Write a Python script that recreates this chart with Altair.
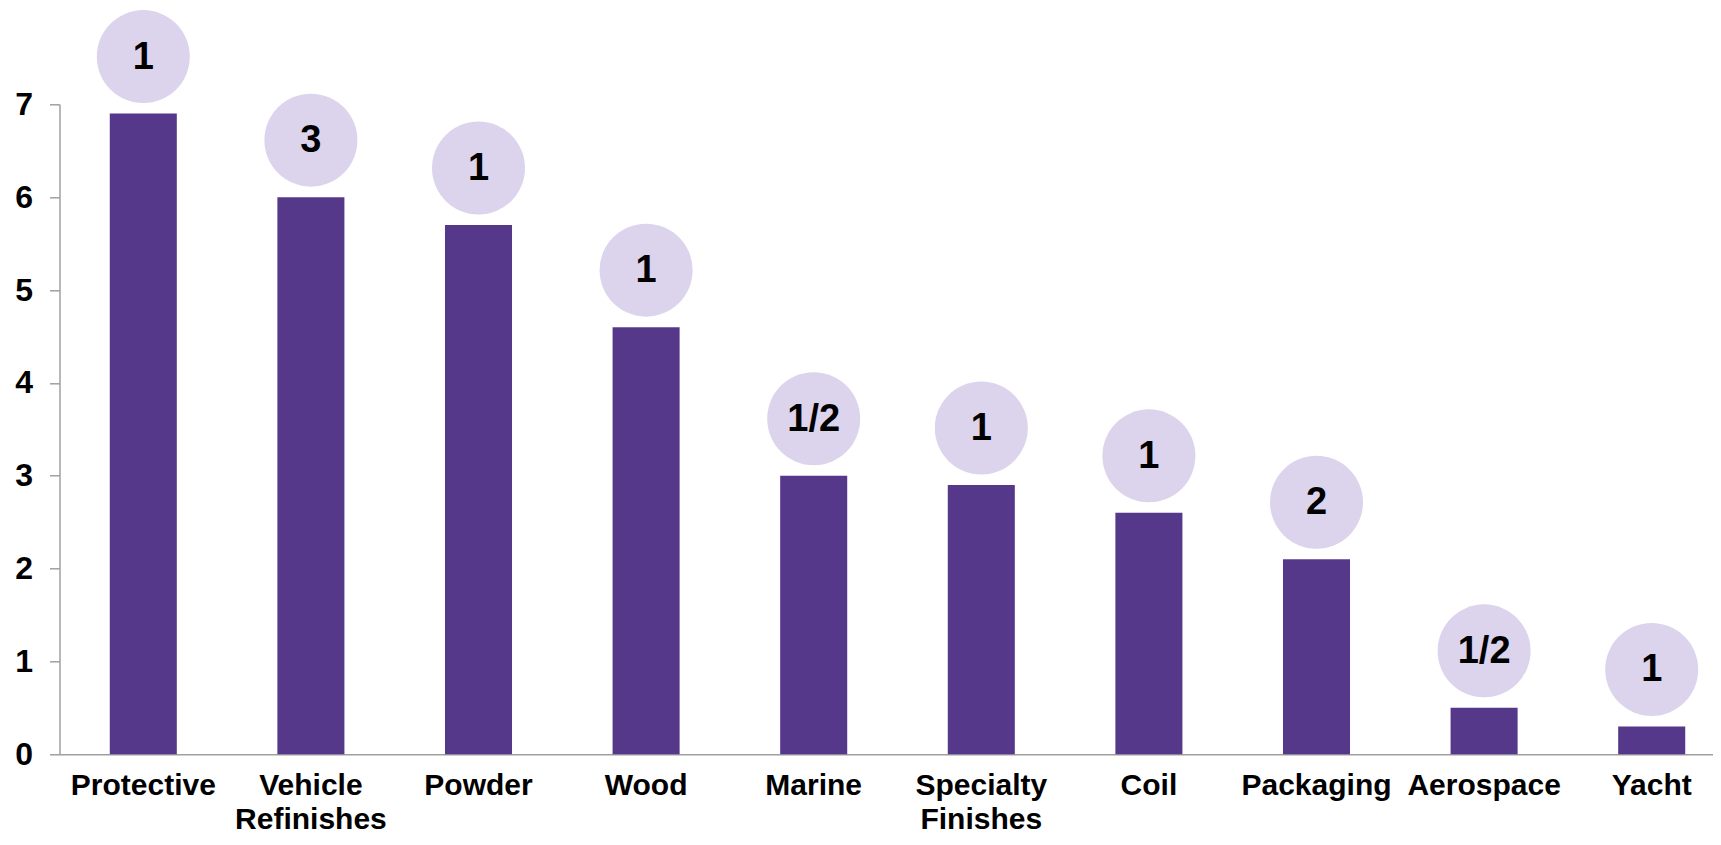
import altair as alt
import pandas as pd

categories = ["Protective", "Vehicle Refinishes", "Powder", "Wood", "Marine",
              "Specialty Finishes", "Coil", "Packaging", "Aerospace", "Yacht"]
values = [6.9, 6.0, 5.7, 4.6, 3.0, 2.9, 2.6, 2.1, 0.5, 0.3]
badges = ["1", "3", "1", "1", "1/2", "1", "1", "2", "1/2", "1"]

df = pd.DataFrame({"category": categories, "value": values, "badge": badges})

FONT = "Liberation Sans, Arial, sans-serif"
BAR = "#56388A"
CIRCLE = "#DCD3EC"
AXIS = "#A0A0A0"

x = alt.X("category:N", sort=categories, title=None,
          scale=alt.Scale(paddingInner=0.6, paddingOuter=0.3, range=[0, 1676]),
          axis=alt.Axis(labelAngle=0, ticks=False, grid=False, domainColor=AXIS, domainWidth=1.5,
                        labelFont=FONT, labelFontSize=30, labelFontWeight="bold",
                        labelColor="#000000", labelPadding=16, labelLineHeight=34,
                        labelExpr="split(datum.label, ' ')", labelLimit=400))
y = alt.Y("value:Q", title=None,
          scale=alt.Scale(domain=[0, 7], nice=False),
          axis=alt.Axis(values=[0, 1, 2, 3, 4, 5, 6, 7], grid=False, format="d",
                        domainColor=AXIS, domainWidth=1.5, tickColor=AXIS, tickWidth=1.5,
                        tickSize=10, labelFont=FONT, labelFontSize=32,
                        labelFontWeight="bold", labelColor="#000000", labelPadding=17))

bars = alt.Chart(df).mark_bar(color=BAR).encode(x=x, y=y)

circles = alt.Chart(df).mark_point(filled=True, shape="circle", size=8649,
                                   color=CIRCLE, opacity=1, yOffset=-57).encode(
    x=alt.X("category:N", sort=categories),
    y=alt.Y("value:Q"))

labels = alt.Chart(df).mark_text(font=FONT, fontSize=38, fontWeight="bold",
                                 color="#000000", baseline="middle", align="center",
                                 yOffset=-56).encode(
    x=alt.X("category:N", sort=categories),
    y=alt.Y("value:Q"), text="badge:N")

chart = alt.layer(bars, circles, labels).properties(
    width=1653.5, height=650,
    background="white",
    autosize=alt.AutoSizeParams(type="none"),
    padding={"left": 51.5, "top": 96.3, "right": 0, "bottom": 80.7},
).configure_view(stroke="transparent", strokeWidth=0
).configure_axis(grid=False)

chart.save("out.html", embed_options={"renderer": "svg", "actions": False})
